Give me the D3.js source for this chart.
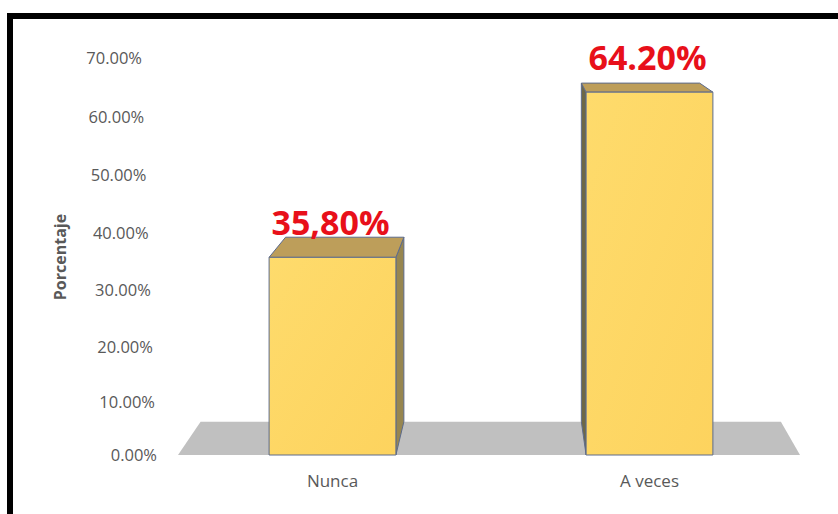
<!DOCTYPE html>
<html>
<head>
<meta charset="utf-8">
<script src="https://cdn.jsdelivr.net/npm/d3@7"></script>
<style>
  html, body { margin: 0; padding: 0; background: #ffffff; }
  svg { display: block; }
  text { font-family: "Open Sans", "Liberation Sans", sans-serif; }
</style>
</head>
<body>
<script>
// Chart data
const categories = ["Nunca", "A veces"];
const values = [35.8, 64.2];
const valueLabels = ["35,80%", "64.20%"];
const tickValues = [0, 10, 20, 30, 40, 50, 60, 70];
const tickLabels = ["0.00%", "10.00%", "20.00%", "30.00%", "40.00%", "50.00%", "60.00%", "70.00%"];
const axisTitle = "Porcentaje";

const W = 838, H = 514;
const svg = d3.select("body").append("svg").attr("width", W).attr("height", H);

// Front plane: floor edge at the bottom, value axis rising with a slight perspective curve
const floorLeft = 178, floorRight = 800, baseY = 455, topY = 58;
const y = d3.scalePow().exponent(1.04).domain([0, 70]).range([baseY, topY]);
const x = d3.scaleBand().domain(categories).range([174, 808])
  .paddingInner(0.6).paddingOuter(0.3);

// Perspective depth: a point on the front plane and its counterpart at the back
const vanish = { x: 515, y: -43 }, depth = 0.067;
const back = ([px, py]) => [px + depth * (vanish.x - px), py + depth * (vanish.y - py)];
const poly = pts => "M" + pts.map(p => p.join(",")).join("L") + "Z";

// Gradient for the bar fronts
const defs = svg.append("defs");
const grad = defs.append("linearGradient").attr("id", "barFront")
  .attr("x1", 0).attr("y1", 0).attr("x2", 1).attr("y2", 1);
grad.append("stop").attr("offset", "0%").attr("stop-color", "#fedb6c");
grad.append("stop").attr("offset", "100%").attr("stop-color", "#fdd35e");

// Floor
const fl = [floorLeft, baseY], fr = [floorRight, baseY];
svg.append("path")
  .attr("d", poly([fl, fr, back(fr), back(fl)]))
  .attr("fill", "#c0c0c0");

// Bars
const bars = svg.append("g");
categories.forEach((c, i) => {
  const x0 = x(c), x1 = x(c) + x.bandwidth();
  const yt = y(values[i]);
  const tl = [x0, yt], tr = [x1, yt], bl = [x0, baseY], br = [x1, baseY];
  const g = bars.append("g").attr("stroke", "#5d6b8c").attr("stroke-width", 1).attr("stroke-linejoin", "round");
  // side face that faces the vanishing point
  if (x1 < vanish.x) {
    g.append("path").attr("d", poly([tr, back(tr), back(br), br])).attr("fill", "#978650");
  } else {
    g.append("path").attr("d", poly([tl, back(tl), back(bl), bl])).attr("fill", "#6e6846");
  }
  // top face
  g.append("path").attr("d", poly([tl, tr, back(tr), back(tl)])).attr("fill", "#bd9e5a");
  // front face
  g.append("path").attr("d", poly([tl, tr, br, bl])).attr("fill", "url(#barFront)");
});

// Value labels
svg.append("g").selectAll("text").data(categories).join("text")
  .attr("x", c => x(c) + x.bandwidth() / 2 - 2)
  .attr("y", (c, i) => y(values[i]) - 22)
  .attr("text-anchor", "middle")
  .attr("font-size", 34).attr("font-weight", 700)
  .attr("fill", "#e8101a")
  .text((c, i) => valueLabels[i]);

// Value axis labels, set along the slanted axis edge
const axisRight = v => 157 - 15 * (baseY - y(v)) / (baseY - topY);
svg.append("g").selectAll("text").data(tickValues).join("text")
  .attr("x", v => axisRight(v))
  .attr("y", v => y(v))
  .attr("dy", "0.36em")
  .attr("text-anchor", "end")
  .attr("font-size", 16.5).attr("fill", "#595959")
  .text((v, i) => tickLabels[i]);

// Axis title
svg.append("text")
  .attr("transform", "translate(66,257) rotate(-90)")
  .attr("text-anchor", "middle")
  .attr("font-size", 16).attr("font-weight", 700).attr("fill", "#595959")
  .text(axisTitle);

// Category labels
svg.append("g").selectAll("text").data(categories).join("text")
  .attr("x", c => x(c) + x.bandwidth() / 2)
  .attr("y", 487)
  .attr("text-anchor", "middle")
  .attr("font-size", 17).attr("fill", "#595959")
  .text(c => c);

// Outer frame
svg.append("rect")
  .attr("x", 10).attr("y", 16).attr("width", 840).attr("height", 510)
  .attr("fill", "none").attr("stroke", "#000").attr("stroke-width", 6);
</script>
</body>
</html>
